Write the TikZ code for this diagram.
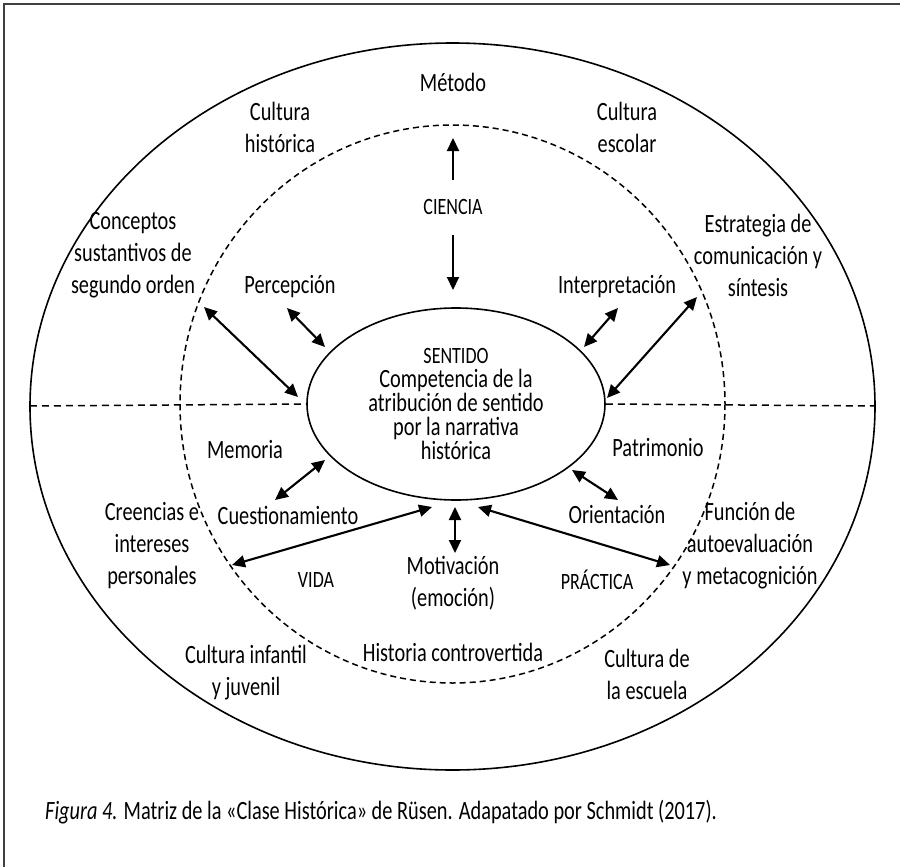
\documentclass[tikz,border=0pt]{standalone}
\usepackage{fontspec}
\setmainfont[FakeStretch=0.77]{Carlito}
\usetikzlibrary{arrows.meta,shapes.geometric}
\lineskiplimit=-100pt\relax
\begin{document}
\begin{tikzpicture}[x=1pt,y=-1pt,
  lbl/.style={align=center,font=\fontsize{26.4}{32}\selectfont,inner sep=0pt},
  sm/.style={font=\fontsize{23.4}{22}\selectfont,inner sep=0pt},
  tip/.tip={Triangle[length=13pt,width=12pt]},
  dbl/.style={tip-tip,line width=2.1pt},
  sgl/.style={-tip,line width=2.1pt},
  dsh/.style={dash pattern=on 6pt off 4pt,line width=1.5pt}]
\useasboundingbox (0,0) rectangle (900,867);
\fill[white] (0,0) rectangle (900,867);
\draw[line width=2.5pt,black!75] (4,867) -- (4,4) -- (900,4);
% ellipses
\draw[line width=1.6pt] (452.5,406.5) ellipse [x radius=422.5, y radius=363.5];
\draw[dsh] (452.5,404) ellipse [x radius=272.5, y radius=279];
\node[draw,ellipse,minimum width=298pt,minimum height=192pt,inner sep=0pt,line width=1.6pt,
  align=center,font=\fontsize{26.4}{24}\selectfont,fill=white] (sent) at (456,404)
  {{\fontsize{23.4}{24}\selectfont SENTIDO}\\Competencia de la\\atribución de sentido\\por la narrativa\\histórica};
% dashed horizontal lines
\coordinate (hl1) at (30,406);
\coordinate (hr1) at (875,406);
\draw[dsh,dash pattern=on 7pt off 5pt] (hl1) -- (sent.west);
\draw[dsh,dash pattern=on 7pt off 5pt] (sent.east) -- (hr1);
% labels
\node[lbl] (metodo) at (453,82) {Método};
\node[lbl] (chist) at (280,127.5) {Cultura\\histórica};
\node[lbl] (cesc) at (627,127.5) {Cultura\\escolar};
\node[sm] (ciencia) at (453,207) {CIENCIA};
\node[lbl] (concep) at (133,255) {Conceptos\\sustantivos de\\segundo orden};
\node[lbl] (percep) at (290,287) {Percepción};
\node[lbl] (interp) at (617,287) {Interpretación};
\node[lbl] (estrat) at (758,255) {Estrategia de\\comunicación y\\síntesis};
\node[lbl] (memoria) at (245,450) {Memoria};
\node[lbl] (patrim) at (658,448) {Patrimonio};
\node[lbl] (cuest) at (288,515) {Cuestionamiento};
\node[lbl] (orient) at (617,515) {Orientación};
\node[lbl] (creen) at (152,546) {Creencias e\\intereses\\personales};
\node[sm] (vida) at (316,580) {VIDA};
\node[lbl] (motiv) at (453,583.5) {Motivación\\(emoción)};
\node[sm] (practica) at (597,580) {PRÁCTICA};
\node[lbl] (funcion) at (750,546) {Función de\\autoevaluación\\y metacognición};
\node[lbl] (hcontro) at (453,652) {Historia controvertida};
\node[lbl] (cinf) at (246,673) {Cultura infantil\\y juvenil};
\node[lbl] (cesc2) at (647,674) {Cultura de\\la escuela};
\node[anchor=west,inner sep=0pt,font=\fontsize{26.4}{30}\selectfont] (caption) at (45,812)
  {\textit{Figura 4.} Matriz de la «Clase Histórica» de Rüsen. Adapatado por Schmidt (2017).};
% arrow end points
\coordinate (a1s) at (453,180); \coordinate (a1e) at (453,138);
\coordinate (a2s) at (453,235); \coordinate (a2e) at (453,290);
\coordinate (a3s) at (287,308); \coordinate (a3e) at (325,347);
\coordinate (a4s) at (204,307); \coordinate (a4e) at (298,397);
\coordinate (a5s) at (618,308); \coordinate (a5e) at (584,347);
\coordinate (a6s) at (697,297); \coordinate (a6e) at (607,398);
\coordinate (a7s) at (325,460); \coordinate (a7e) at (275,500);
\coordinate (a8s) at (432,507); \coordinate (a8e) at (232,565);
\coordinate (a9s) at (455,507); \coordinate (a9e) at (455,553);
\coordinate (a10s) at (572,470); \coordinate (a10e) at (618,500);
\coordinate (a11s) at (478,507); \coordinate (a11e) at (670,565);
\draw[sgl] (a1s) -- (a1e);
\draw[sgl] (a2s) -- (a2e);
\draw[dbl] (a3s) -- (a3e);
\draw[dbl] (a4s) -- (a4e);
\draw[dbl] (a5s) -- (a5e);
\draw[dbl] (a6s) -- (a6e);
\draw[dbl] (a7s) -- (a7e);
\draw[dbl] (a8s) -- (a8e);
\draw[dbl] (a9s) -- (a9e);
\draw[dbl] (a10s) -- (a10e);
\draw[dbl] (a11s) -- (a11e);
\end{tikzpicture}
\end{document}
